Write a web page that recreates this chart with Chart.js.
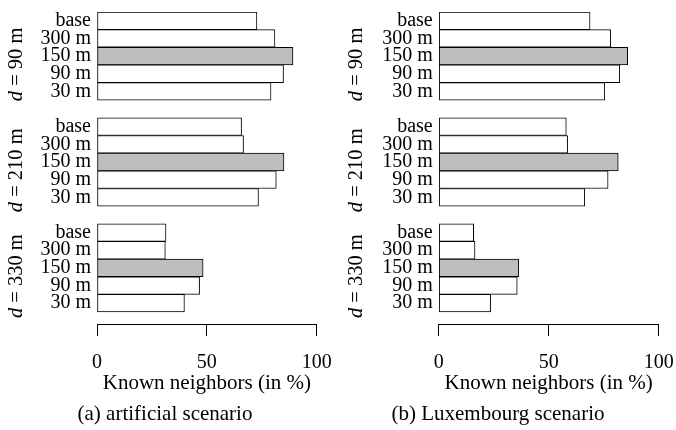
<!DOCTYPE html>
<html>
<head>
<meta charset="utf-8">
<script src="https://cdn.jsdelivr.net/npm/chart.js@4/dist/chart.umd.min.js"></script>
<style>
  html, body { margin: 0; padding: 0; background: #fff; }
  #wrap { position: relative; width: 676px; height: 430px; overflow: hidden; background: #fff; }
  canvas { position: absolute; top: 0; }
  .cap { position: absolute; top: 403px; font: 21px/21px 'Liberation Serif', 'Times New Roman', serif; color: #000; text-align: center; white-space: nowrap; }
</style>
</head>
<body>
<div id="wrap">
  <canvas id="cA" width="338" height="430" style="left:0"></canvas>
  <canvas id="cB" width="338" height="430" style="left:338px"></canvas>
  <div class="cap" style="left:0;width:330px">(a) artificial scenario</div>
  <div class="cap" style="left:338px;width:320px">(b) Luxembourg scenario</div>
</div>
<script>
// ---- data ----
const rangeLabels = ['base', '300 m', '150 m', '90 m', '30 m'];
const groupLabels = ['90 m', '210 m', '330 m'];
const highlightLabel = '150 m';
const xTicks = [0, 50, 100];
const xTitle = 'Known neighbors (in %)';

const artificialD90  = [72.8, 81.0, 89.2, 84.9, 79.2];
const artificialD210 = [65.8, 66.7, 85.1, 81.6, 73.5];
const artificialD330 = [31.4, 31.1, 48.3, 46.7, 39.8];

const luxembourgD90  = [68.8, 78.2, 85.9, 82.3, 75.5];
const luxembourgD210 = [58.0, 58.6, 81.6, 77.0, 66.4];
const luxembourgD330 = [15.9, 16.5, 36.4, 35.7, 23.6];

// ---- styling ----
const FONT = "'Liberation Serif', 'Times New Roman', serif";
const WHITE = '#ffffff';
const GREY = '#bebebe';
const INK = '#000000';

function buildPanel(canvasId, groups, opts) {
  const points = [];
  const colors = [];
  const tickPos = [];
  const tickText = {};
  groups.forEach((vals, g) => {
    vals.forEach((v, i) => {
      const pos = g * (rangeLabels.length + 1) + i;
      points.push({ x: v, y: pos });
      colors.push(rangeLabels[i] === highlightLabel ? GREY : WHITE);
      tickPos.push(pos);
      tickText[pos] = rangeLabels[i];
    });
  });
  const span = rangeLabels.length + 1;

  const groupLabelPlugin = {
    id: 'groupLabels_' + canvasId,
    afterDraw(chart) {
      const ctx = chart.ctx;
      const ys = chart.scales.y;
      const fs = '20.5px ';
      ctx.save();
      ctx.fillStyle = INK;
      ctx.textBaseline = 'alphabetic';
      ctx.textAlign = 'left';
      groupLabels.forEach((lab, g) => {
        const cy = ys.getPixelForValue(g * span + (rangeLabels.length - 1) / 2) + 8.3;
        ctx.save();
        ctx.translate(opts.groupX, cy);
        ctx.rotate(-Math.PI / 2);
        ctx.font = 'italic ' + fs + FONT;
        const w1 = ctx.measureText('d').width;
        ctx.font = fs + FONT;
        const rest = ' = ' + lab;
        const w2 = ctx.measureText(rest).width;
        const start = -(w1 + w2) / 2;
        ctx.font = 'italic ' + fs + FONT;
        ctx.fillText('d', start, 0);
        ctx.font = fs + FONT;
        ctx.fillText(rest, start + w1, 0);
        ctx.restore();
      });
      ctx.restore();
    }
  };

  return new Chart(document.getElementById(canvasId), {
    type: 'bar',
    data: {
      datasets: [{
        data: points,
        backgroundColor: colors,
        borderColor: INK,
        borderWidth: 1,
        borderSkipped: false,
        barPercentage: 1,
        categoryPercentage: 1
      }]
    },
    options: {
      indexAxis: 'y',
      responsive: false,
      animation: false,
      devicePixelRatio: 1,
      layout: { padding: { top: 12, left: 0, right: opts.padRight, bottom: 36 } },
      plugins: { legend: { display: false }, tooltip: { enabled: false }, title: { display: false } },
      scales: {
        x: {
          type: 'linear',
          position: 'bottom',
          min: xTicks[0],
          max: xTicks[xTicks.length - 1],
          afterBuildTicks: (s) => { s.ticks = xTicks.map(v => ({ value: v })); },
          afterFit: (s) => { s.height = 70; s.paddingLeft = 0; s.paddingRight = 0; s.paddingTop = 0; s.paddingBottom = 0; },
          ticks: { padding: 17, color: INK, font: { family: FONT, size: 20, lineHeight: 1 } },
          grid: { display: true, drawOnChartArea: false, drawTicks: true, tickLength: 12, color: INK, lineWidth: 1 },
          border: { display: true, color: INK, width: 1 },
          title: { display: true, text: xTitle, color: INK, padding: 0, font: { family: FONT, size: 21, lineHeight: 1 } }
        },
        y: {
          type: 'linear',
          reverse: true,
          offset: false,
          min: -0.5,
          max: 17.18,
          afterBuildTicks: (s) => { s.ticks = tickPos.map(v => ({ value: v })); },
          afterFit: (s) => { s.width = opts.yWidth; s.paddingTop = 0; s.paddingBottom = 0; s.paddingLeft = 0; s.paddingRight = 0; },
          ticks: {
            autoSkip: false,
            padding: 6,
            color: INK,
            font: { family: FONT, size: 20, lineHeight: 1 },
            callback: (v) => (tickText[v] !== undefined ? tickText[v] : '')
          },
          grid: { display: false, drawTicks: false },
          border: { display: false }
        }
      }
    },
    plugins: [groupLabelPlugin]
  });
}

buildPanel('cA', [artificialD90, artificialD210, artificialD330], { yWidth: 97, padRight: 21.3, groupX: 22 });
buildPanel('cB', [luxembourgD90, luxembourgD210, luxembourgD330], { yWidth: 100.7, padRight: 17.3, groupX: 24 });
</script>
</body>
</html>
